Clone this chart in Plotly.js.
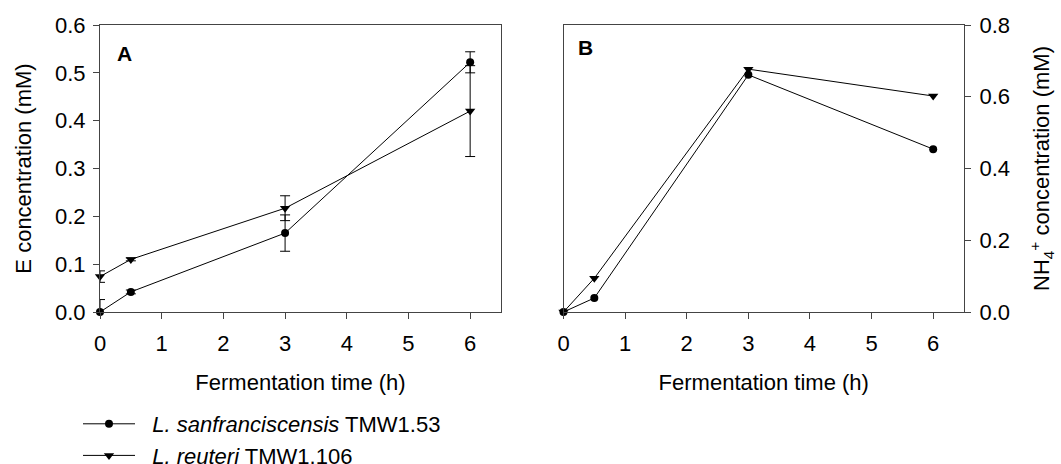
<!DOCTYPE html>
<html>
<head>
<meta charset="utf-8">
<script src="https://cdn.plot.ly/plotly-3.0.1.min.js"></script>
<style>
  html, body { margin: 0; padding: 0; background: #fff; }
  #chart { width: 1061px; height: 464px; }
</style>
</head>
<body>
<div id="chart"></div>
<script>
// Fermentation sampling times (h)
const times = [0, 0.5, 3, 6];

// Panel A: E concentration (mM) with standard deviations
const eSanfran = [0.0, 0.042, 0.165, 0.522];
const eSanfranErr = [0.026, 0.004, 0.038, 0.022];
const eReuteri = [0.074, 0.110, 0.217, 0.420];
const eReuteriErr = [0.012, 0.003, 0.026, 0.095];

// Panel B: NH4+ concentration (mM)
const nhSanfran = [0.0, 0.039, 0.661, 0.454];
const nhReuteri = [0.0, 0.094, 0.677, 0.602];

// Strain names (leading no-break spaces widen the gap after the legend symbol)
const strainNames = [
  '\u00a0\u00a0<i>L. sanfranciscensis</i> TMW1.53',
  '\u00a0\u00a0<i>L. reuteri</i> TMW1.106'
];

const W = 1061, H = 464;
const px = v => v / W;
const py = v => 1 - v / H;

const FONT = 'Liberation Sans, Arial, sans-serif';
const FS = 22;
const AXIS_COLOR = '#444';
const txtFont = { family: FONT, size: FS, color: '#000' };

const lineStyle = { color: '#000', width: 1 };
const circleMarker = { symbol: 'circle', size: 8, color: '#000' };
const triMarker = { symbol: 'triangle-down', size: 9, color: '#000' };
const errStyle = { type: 'data', visible: true, color: '#000', thickness: 1, width: 5 };

const traces = [
  {
    x: times, y: eSanfran, name: strainNames[0],
    mode: 'lines+markers', line: lineStyle, marker: circleMarker,
    error_y: Object.assign({ array: eSanfranErr }, errStyle),
    xaxis: 'x', yaxis: 'y', cliponaxis: false
  },
  {
    x: times, y: eReuteri, name: strainNames[1],
    mode: 'lines+markers', line: lineStyle, marker: triMarker,
    error_y: Object.assign({ array: eReuteriErr }, errStyle),
    xaxis: 'x', yaxis: 'y', cliponaxis: false
  },
  {
    x: times, y: nhSanfran, name: strainNames[0], showlegend: false,
    mode: 'lines+markers', line: lineStyle, marker: circleMarker,
    xaxis: 'x2', yaxis: 'y2', cliponaxis: false
  },
  {
    x: times, y: nhReuteri, name: strainNames[1], showlegend: false,
    mode: 'lines+markers', line: lineStyle, marker: triMarker,
    xaxis: 'x2', yaxis: 'y2', cliponaxis: false
  }
];

const baseAxis = {
  showgrid: false, zeroline: false, showline: true, mirror: true,
  automargin: true,
  linecolor: AXIS_COLOR, linewidth: 1,
  ticks: 'outside', ticklen: 6, tickwidth: 1, tickcolor: AXIS_COLOR,
  tickfont: txtFont
};

const xTicks = [0, 1, 2, 3, 4, 5, 6];

const layout = {
  width: W, height: H,
  margin: { l: 0, r: 0, t: 0, b: 0, autoexpand: false },
  paper_bgcolor: '#fff', plot_bgcolor: '#fff',
  font: txtFont,
  showlegend: true,
  legend: {
    x: px(78), y: py(403), xanchor: 'left', yanchor: 'top',
    traceorder: 'normal', itemwidth: 52,
    font: txtFont,
    bgcolor: 'rgba(0,0,0,0)'
  },
  xaxis: Object.assign({}, baseAxis, {
    domain: [px(100), px(501)], range: [0, 6.5],
    tickvals: xTicks, ticktext: xTicks.map(String), anchor: 'y',
    ticklabelstandoff: 6,
    title: { text: 'Fermentation time (h)', font: txtFont, standoff: 19 }
  }),
  yaxis: Object.assign({}, baseAxis, {
    domain: [py(312), py(25)], range: [0, 0.6],
    dtick: 0.1, tick0: 0, tickformat: '.1f', anchor: 'x',
    ticklabelstandoff: 3,
    title: { text: 'E concentration (mM)', font: txtFont, standoff: 17 }
  }),
  xaxis2: Object.assign({}, baseAxis, {
    domain: [px(563.5), px(964)], range: [0, 6.5],
    tickvals: xTicks, ticktext: xTicks.map(String), anchor: 'y2',
    ticklabelstandoff: 6,
    title: { text: 'Fermentation time (h)', font: txtFont, standoff: 19 }
  }),
  yaxis2: Object.assign({}, baseAxis, {
    domain: [py(312), py(25)], range: [0, 0.8], side: 'right',
    dtick: 0.2, tick0: 0, tickformat: '.1f', anchor: 'x2',
    ticklabelstandoff: 4,
    title: { text: 'NH<sub>4</sub><sup>+</sup> concentration (mM)', font: txtFont, standoff: 24 }
  }),
  annotations: [
    { text: '<b>A</b>', xref: 'x', yref: 'y', x: 0.39, y: 0.54,
      showarrow: false, font: { family: FONT, size: 21, color: '#000' } },
    { text: '<b>B</b>', xref: 'x2', yref: 'y2', x: 0.365, y: 0.736,
      showarrow: false, font: { family: FONT, size: 21, color: '#000' } }
  ]
};

Plotly.newPlot('chart', traces, layout, { displayModeBar: false, staticPlot: true });
</script>
</body>
</html>
